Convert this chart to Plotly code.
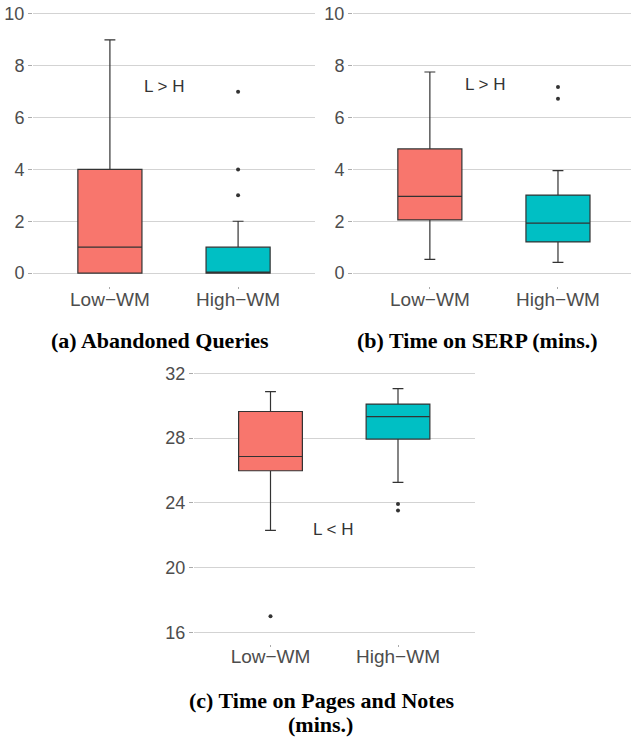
import plotly.graph_objects as go

W, H = 631, 740

categories = ["Low−WM", "High−WM"]
colors = ["#F8766D", "#00BFC4"]

# (a) Abandoned Queries
a_q1 = [0, 0]
a_median = [1, 0]
a_q3 = [4, 1]
a_lower = [0, 0]
a_upper = [9, 2]
a_outliers = [[], [3, 4, 7]]

# (b) Time on SERP (mins.)
b_q1 = [2.05, 1.20]
b_median = [2.96, 1.93]
b_q3 = [4.79, 3.01]
b_lower = [0.53, 0.41]
b_upper = [7.76, 3.95]
b_outliers = [[], [6.73, 7.18]]

# (c) Time on Pages and Notes (mins.)
c_q1 = [25.98, 27.94]
c_median = [26.86, 29.33]
c_q3 = [29.64, 30.10]
c_lower = [22.30, 25.26]
c_upper = [30.87, 31.06]
c_outliers = [[16.99], [23.53, 23.93]]

a_ticks = [0, 2, 4, 6, 8, 10]
b_ticks = [0, 2, 4, 6, 8, 10]
c_ticks = [16, 20, 24, 28, 32]

captions = ["(a) Abandoned Queries", "(b) Time on SERP (mins.)",
            "(c) Time on Pages and Notes", "(mins.)"]
notes = ["L > H", "L > H", "L < H"]

fig = go.Figure()

panels = [
    ("x", "y", a_q1, a_median, a_q3, a_lower, a_upper, a_outliers),
    ("x2", "y2", b_q1, b_median, b_q3, b_lower, b_upper, b_outliers),
    ("x3", "y3", c_q1, c_median, c_q3, c_lower, c_upper, c_outliers),
]

for xa, ya, q1, med, q3, lo, up, outs in panels:
    for i, cat in enumerate(categories):
        fig.add_trace(go.Box(
            x=[cat], q1=[q1[i]], median=[med[i]], q3=[q3[i]],
            lowerfence=[lo[i]], upperfence=[up[i]],
            fillcolor=colors[i], line=dict(color="#333333", width=1.2),
            width=0.5, whiskerwidth=0.17, boxpoints=False,
            xaxis=xa, yaxis=ya, hoverinfo="skip"))
        if outs[i]:
            fig.add_trace(go.Scatter(
                x=[cat] * len(outs[i]), y=outs[i], mode="markers",
                marker=dict(color="#333333", size=4),
                xaxis=xa, yaxis=ya, hoverinfo="skip"))

xcommon = dict(type="category", categoryorder="array", categoryarray=categories,
               showgrid=False, zeroline=False, showline=False,
               ticks="outside", ticklen=2, tickcolor="#aaaaaa",
               ticklabelstandoff=-6,
               tickfont=dict(family="Liberation Sans", size=19, color="#4D4D4D"))
ycommon = dict(showgrid=True, gridcolor="#D3D3D3", gridwidth=1, zeroline=False,
               showline=False, ticks="outside", ticklen=4, tickcolor="#aaaaaa",
               tickfont=dict(family="Liberation Sans", size=18, color="#4D4D4D"))

def ydom(top, bottom):
    return [(H - bottom) / H, (H - top) / H]

fig.update_layout(
    width=W, height=H, margin=dict(l=0, r=0, t=0, b=0),
    paper_bgcolor="white", plot_bgcolor="white", showlegend=False,
    boxmode="overlay",
    xaxis=dict(xcommon, domain=[33 / W, 315 / W], range=[-0.6, 1.6], anchor="y"),
    yaxis=dict(ycommon, domain=ydom(1, 286), range=[-0.5, 10.5],
               tickvals=a_ticks, anchor="x"),
    xaxis2=dict(xcommon, domain=[353 / W, 1], range=[-0.6, 1.57], anchor="y2"),
    yaxis2=dict(ycommon, domain=ydom(1, 286), range=[-0.5, 10.5],
                tickvals=b_ticks, anchor="x2"),
    xaxis3=dict(xcommon, domain=[194 / W, 474.5 / W], range=[-0.6, 1.6], anchor="y3"),
    yaxis3=dict(ycommon, domain=ydom(362, 643.6), range=[15.3, 32.7],
                tickvals=c_ticks, anchor="x3"),
)

note_pos = [("x", "y", 0.42, 7.2), ("x2", "y2", 0.43, 7.27), ("x3", "y3", 0.49, 22.34)]
for (xa, ya, xv, yv), t in zip(note_pos, notes):
    fig.add_annotation(x=xv, y=yv, xref=xa, yref=ya, text=t, showarrow=False,
                       font=dict(family="Liberation Sans", size=17, color="#333333"))

cap_pos = [(160, 341), (477, 341), (321, 700), (320, 724)]
for (cx, cy), t in zip(cap_pos, captions):
    fig.add_annotation(x=cx / W, y=(H - cy) / H, xref="paper", yref="paper",
                       text="<b>" + t + "</b>", showarrow=False,
                       xanchor="center", yanchor="middle",
                       font=dict(family="Liberation Serif", size=22, color="black"))

fig.write_html("out.html", config={"displayModeBar": False, "staticPlot": True},
               post_script="document.body.style.margin='0';document.body.style.overflow='hidden';")
